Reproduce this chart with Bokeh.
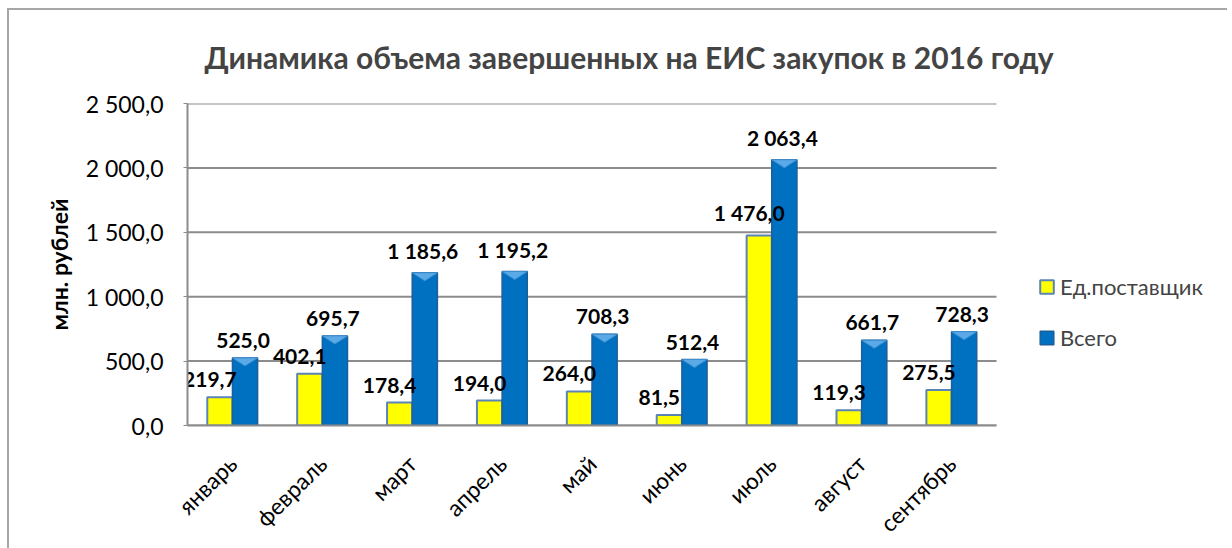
import math
import numpy as np
from bokeh.plotting import figure
from bokeh.models import ColumnDataSource, FixedTicker, Legend, LegendItem, Range1d
from bokeh.transform import dodge
from bokeh.embed import file_html
from bokeh.resources import INLINE
from bokeh.core.properties import value

months = ["январь", "февраль", "март", "апрель", "май", "июнь", "июль", "август", "сентябрь"]
single_supplier = [219.7, 402.1, 178.4, 194.0, 264.0, 81.5, 1476.0, 119.3, 275.5]
total = [525.0, 695.7, 1185.6, 1195.2, 708.3, 512.4, 2063.4, 661.7, 728.3]
series_names = ["Ед.поставщик", "Всего"]
y_ticks = [0, 500, 1000, 1500, 2000, 2500]
y_tick_labels = ["0,0", "500,0", "1 000,0", "1 500,0", "2 000,0", "2 500,0"]
title_text = "Динамика объема завершенных на ЕИС закупок в 2016 году"
y_label = "млн. рублей"


def fmt(v):
    return f"{v:,.1f}".replace(",", " ").replace(".", ",")


FONT = "Lato"
FRAME_W, FRAME_H = 1040, 322
PLOT_W = 809                      # pixel width of the category area
BW = 0.28
n = len(months)
xc = np.arange(n) + 0.5
x_end = n * FRAME_W / PLOT_W      # frame extends right to hold the legend

src = ColumnDataSource(dict(
    x=xc,
    ys=single_supplier,
    yt=total,
    ls=[fmt(v) for v in single_supplier],
    lt=[fmt(v) for v in total],
))

p = figure(frame_width=FRAME_W, frame_height=FRAME_H,
           x_range=Range1d(0, x_end), y_range=Range1d(0, 2500),
           output_backend="svg", toolbar_location=None,
           min_border_left=178, min_border_right=0, min_border_top=93, min_border_bottom=120)
p.styles = {"border-left": "2px solid #a6a6a6", "border-top": "2px solid #a6a6a6",
            "margin-left": "7px", "margin-top": "8px"}
p.outline_line_color = None
p.background_fill_color = "white"

# title
p.title.text = title_text
p.title.align = "left"
p.title.vertical_align = "top"
p.title.text_font = FONT
p.title.text_font_style = "bold"
p.title.text_font_size = "30px"
p.title.offset = 17
p.title.standoff = 54

# grid lines limited to the category area
p.xgrid.grid_line_color = None
p.ygrid.grid_line_color = None
p.segment(x0=0, x1=n, y0=y_ticks, y1=y_ticks, line_color="#8c8c8c", line_width=2)

# bars
yellow = p.vbar(x=dodge("x", -BW / 2), top="ys", width=BW, source=src,
                fill_color="#FFFF00", line_color="#5B84B6", line_width=2)
blue = p.vbar(x=dodge("x", BW / 2), top="yt", width=BW, source=src,
              fill_color="#0070C0", line_color="#1F5E99", line_width=1.5)
# bevel highlight on top of blue bars
bev = 2500 * 8 / FRAME_H
bxs = [[x, x + BW, x + BW / 2] for x in xc]
bys = [[t, t, t - bev] for t in total]
p.patches(bxs, bys, fill_color="#5AAAE8", line_color="#3E8FD0", line_width=1)

# value labels
p.text(x=dodge("x", -BW / 2), y="ys", text="ls", source=src, x_offset=-10, y_offset=-10,
       text_align="center", text_baseline="bottom", text_font=value(FONT),
       text_font_style="bold", text_font_size="21px", text_color="black")
p.text(x=dodge("x", BW / 2), y="yt", text="lt", source=src, x_offset=-2, y_offset=-10,
       text_align="center", text_baseline="bottom", text_font=value(FONT),
       text_font_style="bold", text_font_size="21px", text_color="black")

# axes
p.xaxis.ticker = FixedTicker(ticks=list(xc))
p.xaxis.major_label_overrides = {float(x): m for x, m in zip(xc, months)}
p.xaxis.major_label_orientation = math.pi / 4
p.xaxis.major_label_text_font = FONT
p.xaxis.major_label_text_font_size = "23px"
p.xaxis.major_label_text_color = "black"
p.xaxis.major_tick_line_color = None
p.xaxis.minor_tick_line_color = None
p.xaxis.axis_line_color = "#8c8c8c"
p.xaxis.axis_line_width = 2
p.xaxis.bounds = (0, n)
p.xaxis.major_label_standoff = 28

p.yaxis.ticker = FixedTicker(ticks=y_ticks)
p.yaxis.major_label_overrides = {t: l for t, l in zip(y_ticks, y_tick_labels)}
p.yaxis.major_label_text_font = FONT
p.yaxis.major_label_text_font_size = "23px"
p.yaxis.major_label_text_color = "black"
p.yaxis.axis_line_color = "#8c8c8c"
p.yaxis.axis_line_width = 2
p.yaxis.major_tick_line_color = "#8c8c8c"
p.yaxis.major_tick_out = 4
p.yaxis.major_tick_in = 0
p.yaxis.minor_tick_line_color = None
p.yaxis.major_label_standoff = 20
p.yaxis.axis_label = y_label
p.yaxis.axis_label_text_font = FONT
p.yaxis.axis_label_text_font_style = "bold"
p.yaxis.axis_label_text_font_size = "23px"
p.yaxis.axis_label_text_color = "black"
p.yaxis.axis_label_standoff = 10

legend = Legend(items=[LegendItem(label=series_names[0], renderers=[yellow]),
                       LegendItem(label=series_names[1], renderers=[blue])],
                location=(851, 74))
legend.border_line_color = None
legend.background_fill_alpha = 0
legend.label_text_font = FONT
legend.label_text_font_size = "22px"
legend.glyph_width = 17
legend.glyph_height = 17
legend.spacing = 24
legend.padding = 0
legend.margin = 0
p.add_layout(legend)

open("out.html", "w").write(file_html(p, INLINE))
